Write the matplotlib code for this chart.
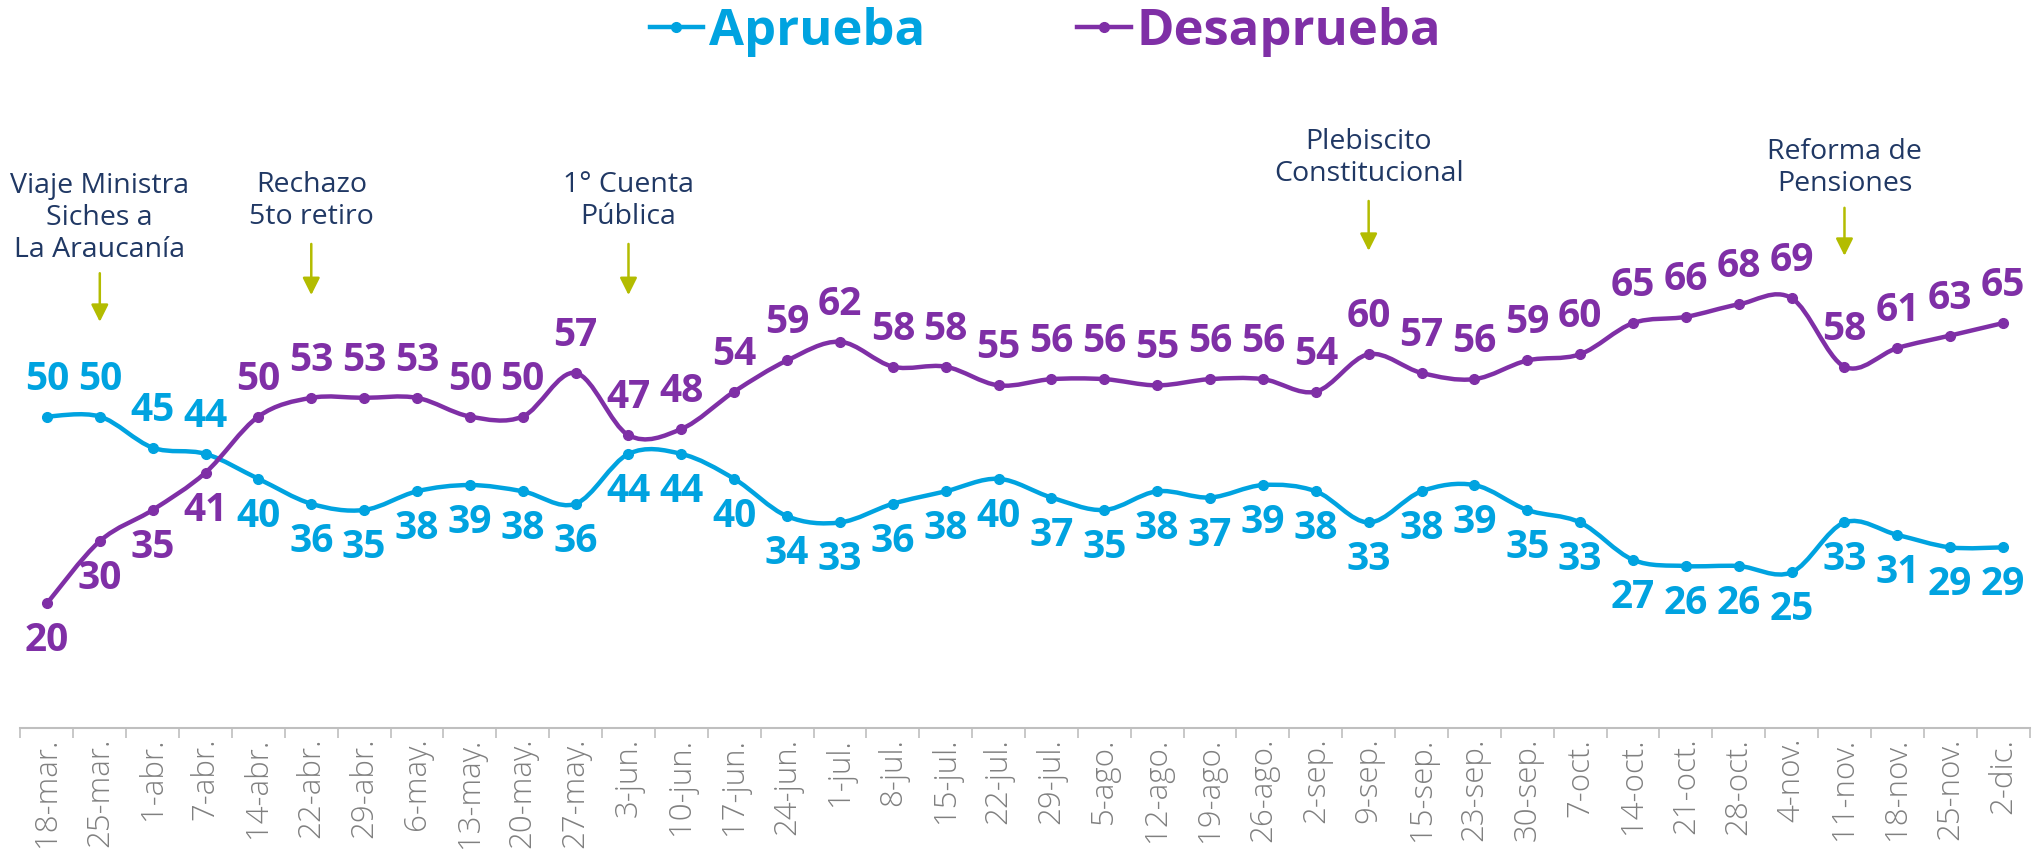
import matplotlib
matplotlib.use("Agg")
import matplotlib.pyplot as plt
from matplotlib.path import Path
from matplotlib.patches import PathPatch
from matplotlib.lines import Line2D
import numpy as np

# datos
fechas = ["18-mar.", "25-mar.", "1-abr.", "7-abr.", "14-abr.", "22-abr.", "29-abr.",
          "6-may.", "13-may.", "20-may.", "27-may.", "3-jun.", "10-jun.", "17-jun.",
          "24-jun.", "1-jul.", "8-jul.", "15-jul.", "22-jul.", "29-jul.", "5-ago.",
          "12-ago.", "19-ago.", "26-ago.", "2-sep.", "9-sep.", "15-sep.", "23-sep.",
          "30-sep.", "7-oct.", "14-oct.", "21-oct.", "28-oct.", "4-nov.", "11-nov.",
          "18-nov.", "25-nov.", "2-dic."]
aprueba = [50, 50, 45, 44, 40, 36, 35, 38, 39, 38, 36, 44, 44, 40, 34, 33, 36, 38, 40,
           37, 35, 38, 37, 39, 38, 33, 38, 39, 35, 33, 27, 26, 26, 25, 33, 31, 29, 29]
desaprueba = [20, 30, 35, 41, 50, 53, 53, 53, 50, 50, 57, 47, 48, 54, 59, 62, 58, 58, 55,
              56, 56, 55, 56, 56, 54, 60, 57, 56, 59, 60, 65, 66, 68, 69, 58, 61, 63, 65]

hitos = ["Viaje Ministra\nSiches a\nLa Araucanía", "Rechazo\n5to retiro",
         "1° Cuenta\nPública", "Plebiscito\nConstitucional", "Reforma de\nPensiones"]
hitos_fecha = ["25-mar.", "22-abr.", "3-jun.", "9-sep.", "11-nov."]

AZUL = "#00A3E0"
MORADO = "#7F2FA6"
NAVY = "#203864"
OLIVA = "#B3BC00"
GRIS = "#808080"

plt.rcParams["font.family"] = ["Open Sans", "DejaVu Sans"]


def curva_suave(x, y):
    # curva tipo "línea suavizada" de Excel (Catmull-Rom como Bezier)
    pts = np.column_stack([x, y]).astype(float)
    n = len(pts)
    verts = [pts[0]]
    codes = [Path.MOVETO]
    for i in range(n - 1):
        p0 = pts[max(i - 1, 0)]
        p1 = pts[i]
        p2 = pts[i + 1]
        p3 = pts[min(i + 2, n - 1)]
        verts += [p1 + (p2 - p0) / 6, p2 - (p3 - p1) / 6, p2]
        codes += [Path.CURVE4] * 3
    return Path(verts, codes)


fig = plt.figure(figsize=(20.39, 8.63), dpi=100)
ax = fig.add_axes([0.01005, 0.1564, 0.9853, 0.7219])

x = np.arange(len(fechas))

for serie, color, z in [(aprueba, AZUL, 3), (desaprueba, MORADO, 4)]:
    ax.add_patch(PathPatch(curva_suave(x, serie), fill=False, ec=color, lw=3.2,
                           zorder=z, capstyle="round", joinstyle="round"))
    ax.plot(x, serie, "o", color=color, ms=7, zorder=z)

# etiquetas de datos
for i, v in enumerate(aprueba):
    dy = 27 if i < 4 else -27
    ax.annotate(str(v), (i, v), xytext=(0, dy), textcoords="offset points",
                ha="center", va="center", color=AZUL, fontsize=28, fontweight="bold")
for i, v in enumerate(desaprueba):
    dy = -27 if i < 4 else 27
    ax.annotate(str(v), (i, v), xytext=(0, dy), textcoords="offset points",
                ha="center", va="center", color=MORADO, fontsize=28, fontweight="bold")

# hitos
hito_y = [(81.9, 73.0, 65.2), (84.6, 77.7, 69.5), (84.6, 77.7, 69.5),
          (91.5, 84.6, 76.6), (89.9, 83.5, 75.8)]
for txt, f, (ty, a0, a1) in zip(hitos, hitos_fecha, hito_y):
    i = fechas.index(f)
    ax.text(i, ty, txt, ha="center", va="center", color=NAVY, fontsize=20.5,
            linespacing=1.2)
    ax.annotate("", xy=(i, a1), xytext=(i, a0),
                arrowprops=dict(arrowstyle="-|>,head_length=0.4,head_width=0.2",
                                color=OLIVA, lw=1.8, mutation_scale=26,
                                shrinkA=0, shrinkB=0))

ax.set_xlim(-0.5, len(fechas) - 0.5)
ax.set_ylim(0, 100)
ax.set_xticks(x)
ax.set_xticklabels(fechas, rotation=90, color=GRIS, fontsize=22.5, fontweight="light")
ax.set_xticks(np.arange(-0.5, len(fechas)), minor=True)
ax.tick_params(axis="x", which="major", length=0, pad=7)
ax.tick_params(axis="x", which="minor", length=7, color="#BFBFBF", width=1.2)
ax.set_yticks([])
for s in ["top", "right", "left"]:
    ax.spines[s].set_visible(False)
ax.spines["bottom"].set_color("#BFBFBF")
ax.spines["bottom"].set_linewidth(1.5)

handles = [Line2D([], [], color=AZUL, lw=3.2, marker="o", ms=7),
           Line2D([], [], color=MORADO, lw=3.2, marker="o", ms=7)]
fig.legend(handles, ["Aprueba", "Desaprueba"], loc="center", bbox_to_anchor=(0.5128, 0.963),
           ncol=2, frameon=False, labelcolor="linecolor",
           prop={"size": 36.5, "weight": "bold"}, handlelength=1.05, handletextpad=0.12,
           columnspacing=3.0)

fig.savefig("out.png", dpi=100)
